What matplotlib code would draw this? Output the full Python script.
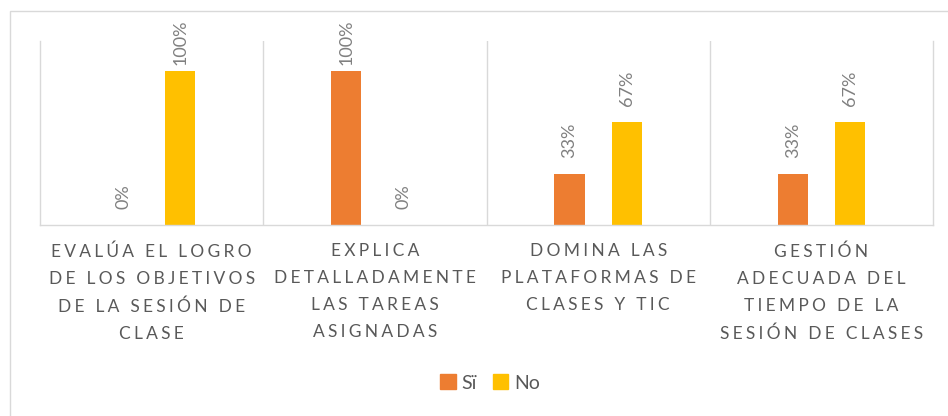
import numpy as np
import matplotlib
matplotlib.use("Agg")
import matplotlib.pyplot as plt
from matplotlib.patches import Patch, Rectangle
from matplotlib.font_manager import FontProperties

# data
categories = [
    "EVALÚA EL LOGRO\nDE LOS OBJETIVOS\nDE LA SESIÓN DE\nCLASE",
    "EXPLICA\nDETALLADAMENTE\nLAS TAREAS\nASIGNADAS",
    "DOMINA LAS\nPLATAFORMAS DE\nCLASES Y TIC",
    "GESTIÓN\nADECUADA DEL\nTIEMPO DE LA\nSESIÓN DE CLASES",
]
series_names = ["Sï", "No"]
si_values = [0.00, 1.00, 0.33, 0.33]
no_values = [1.00, 0.00, 0.67, 0.67]

ORANGE = "#ED7D31"
YELLOW = "#FFC000"
GRID = "#D9D9D9"
LABEL_GRAY = "#808080"
TEXT_GRAY = "#595959"
FONT = ["Lato", "DejaVu Sans"]

W, H = 948, 416


def spaced(text, sep="\u2009\u200a"):
    # Excel style letter spacing on the category axis
    return "\n".join(sep.join(line) for line in text.split("\n"))


fig = plt.figure(figsize=(W / 100, H / 100), dpi=100)
ax = fig.add_axes([40 / W, (H - 225) / H, (933 - 40) / W, (225 - 41) / H])

x = np.arange(len(categories))
bw = 0.135
off = 0.128
bars_si = ax.bar(x - off, si_values, bw, color=ORANGE, label=series_names[0])
bars_no = ax.bar(x + off, no_values, bw, color=YELLOW, label=series_names[1])

# value labels, rotated; Excel pulls the 100% ones down to stay in the chart
value_font = FontProperties(family=FONT, size=13, style="normal", weight="normal")
for bars, vals in ((bars_si, si_values), (bars_no, no_values)):
    for b, v in zip(bars, vals):
        gap = 6 if v > 0.9 else 16
        ax.annotate(f"{v * 100:.0f}%", (b.get_x() + b.get_width() / 2, v),
                    xytext=(0, gap), textcoords="offset pixels",
                    rotation=90, ha="center", va="bottom",
                    fontproperties=value_font, color=LABEL_GRAY)

ax.set_xlim(-0.5, len(categories) - 0.5)
ax.set_ylim(0, 1.195)
ax.set_yticks([])

for xb in np.arange(0.5, len(categories) - 0.5, 1):
    ax.axvline(xb, color=GRID, lw=1, zorder=0)
for side in ("left", "right", "bottom"):
    ax.spines[side].set_color(GRID)
    ax.spines[side].set_linewidth(1)
ax.spines["top"].set_visible(False)

ax.set_xticks(x)
ax.set_xticklabels([spaced(c) for c in categories], fontsize=12.5,
                   color=TEXT_GRAY, family=FONT, linespacing=1.85)
ax.tick_params(axis="x", length=0, pad=13)

handles = [Patch(color=ORANGE), Patch(color=YELLOW)]
fig.legend(handles, series_names, loc="center", bbox_to_anchor=(490 / W, 1 - 383 / H),
           ncol=2, frameon=False, handlelength=0.8, handleheight=0.8,
           handletextpad=0.3, columnspacing=0.8, prop={"family": FONT, "size": 14},
           labelcolor=TEXT_GRAY)

# outer chart frame (right and bottom edges fall outside the crop)
fig.patches.append(Rectangle((10 / W, -0.1), 1.2, 1 - 11 / H + 0.1,
                             transform=fig.transFigure, fill=False,
                             edgecolor=GRID, lw=1))

fig.savefig("out.png", dpi=100)
